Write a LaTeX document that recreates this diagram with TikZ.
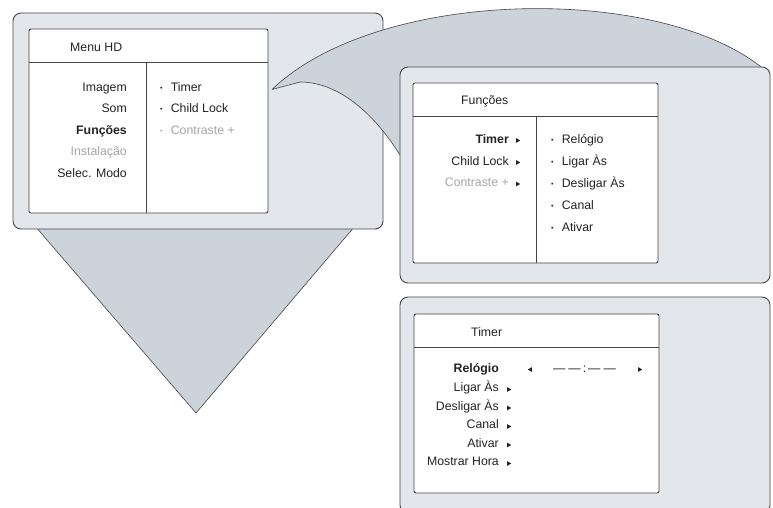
\documentclass[tikz,border=0pt]{standalone}
\usepackage{fontspec}
\setmainfont{Liberation Sans}
\definecolor{panelc}{RGB}{227,230,234}
\definecolor{connc}{RGB}{205,211,219}
\definecolor{strokec}{RGB}{70,70,72}
\definecolor{textc}{RGB}{35,35,35}
\definecolor{dimc}{RGB}{165,165,165}
\newcommand\rtri[3][textc]{\fill[#1] ({#2-1.8},{#3-2.3}) -- ({#2+2.2},{#3}) -- ({#2-1.8},{#3+2.3}) -- cycle;}
\newcommand\ltri[3][textc]{\fill[#1] ({#2+1.8},{#3-2.3}) -- ({#2-2.2},{#3}) -- ({#2+1.8},{#3+2.3}) -- cycle;}
\newcommand\bul{\makebox[10.8pt][l]{\raisebox{1pt}{\fontsize{7}{7}\selectfont •}}}
\begin{document}
\begin{tikzpicture}[x=1pt,y=-1pt,
  panel/.style={draw=strokec, line width=0.9pt, fill=panelc, rounded corners=8pt, inner sep=0pt, minimum width=370pt, minimum height=216pt},
  menubox/.style={draw=strokec, line width=0.9pt, fill=white, rounded corners=2pt, inner sep=0pt},
  divider/.style={draw=strokec, line width=0.9pt},
  conn/.style={draw=strokec, line width=0.6pt, fill=connc, line join=round},
  lbl/.style={inner sep=0pt, text height=8.6pt, text depth=0pt, text=textc, font=\fontsize{12.3}{14}\selectfont},
  dim/.style={lbl, text=dimc},
  sel/.style={lbl, font=\fontsize{12.3}{14}\selectfont\bfseries}
]
\clip (0,0) rectangle (773,508);
\fill[white] (0,0) rectangle (773,508);

% ---- triangle connector below panel 1
\coordinate (tl) at (35,226);
\coordinate (tr) at (355,226);
\coordinate (tap) at (196,413);
\filldraw[conn] (tl) -- (tap) -- (tr) -- cycle;

% ---- panel 1
\node[panel] (P1) at (198,121) {};
\node[menubox, minimum width=239pt, minimum height=184pt] (M1) at (148.5,121) {};
\draw[divider] (29,62) -- (268,62);
\draw[divider] (146,62) -- (146,213);
\node[lbl, anchor=west] (h1) at (70,47) {Menu HD};
\node[lbl, anchor=east] (a1) at (127,87) {Imagem};
\node[lbl, anchor=east] (a2) at (127,108.5) {Som};
\node[sel, anchor=east] (a3) at (127,130) {Funções};
\node[dim, anchor=east] (a4) at (127,151.5) {Instalação};
\node[lbl, anchor=east] (a5) at (127,173) {Selec. Modo};
\node[lbl, anchor=west] (b1) at (159.8,87) {\bul Timer};
\node[lbl, anchor=west] (b2) at (159.8,108.5) {\bul Child Lock};
\node[dim, anchor=west] (b3) at (159.8,130) {\bul Contraste +};

% ---- curved connector from panel 1 to panel 2
\coordinate (ctip) at (272,89.5);
\coordinate (cknee) at (300,82);
\coordinate (cend1) at (766,71);
\coordinate (cend2) at (403,160);
\filldraw[conn] (ctip) .. controls (380,-14) and (665,-16) .. (cend1) -- (cend2) .. controls (377,116) and (340,82) .. (cknee) -- cycle;

% ---- panel 2
\node[panel] (P2) at (585,175) {};
\node[menubox, minimum width=245pt, minimum height=180pt] (M2) at (535.5,173) {};
\draw[divider] (413,116) -- (658,116);
\draw[divider] (536,116) -- (536,263);
\node[lbl, anchor=west] (h2) at (461,100) {Funções};
\node[sel, anchor=east] (c1) at (509,139) {Timer};
\node[lbl, anchor=east] (c2) at (509,161) {Child Lock};
\node[dim, anchor=east] (c3) at (509,182.5) {Contraste +};
\rtri{518}{140.5}
\rtri{518}{162.5}
\rtri{518}{184}
\node[lbl, anchor=west] (d1) at (550.8,139) {\bul Relógio};
\node[lbl, anchor=west] (d2) at (550.8,161) {\bul Ligar Às};
\node[lbl, anchor=west] (d3) at (550.8,183) {\bul Desligar Às};
\node[lbl, anchor=west] (d4) at (550.8,205) {\bul Canal};
\node[lbl, anchor=west] (d5) at (550.8,227) {\bul Ativar};

% ---- panel 3
\node[panel] (P3) at (585,405) {};
\node[menubox, minimum width=245pt, minimum height=179pt] (M3) at (536.5,403.5) {};
\draw[divider] (414,347) -- (659,347);
\node[lbl, anchor=west] (h3) at (471,332) {Timer};
\node[sel, anchor=east] (e1) at (499,368) {Relógio};
\node[lbl, anchor=east] (e2) at (499,387.5) {Ligar Às};
\node[lbl, anchor=east] (e3) at (499,406) {Desligar Às};
\node[lbl, anchor=east] (e4) at (499,424.5) {Canal};
\node[lbl, anchor=east] (e5) at (499,443) {Ativar};
\node[lbl, anchor=east] (e6) at (499,461.5) {Mostrar Hora};
\rtri{509}{389.5}
\rtri{509}{408}
\rtri{509}{426.5}
\rtri{509}{445}
\rtri{509}{463.5}
\ltri{530}{369.5}
\rtri{640}{369.5}
\node[lbl, anchor=west] (clk) at (553,368) {—\hspace{3pt}—\hspace{2pt}:\hspace{2pt}—\hspace{3pt}—};
\end{tikzpicture}
\end{document}
